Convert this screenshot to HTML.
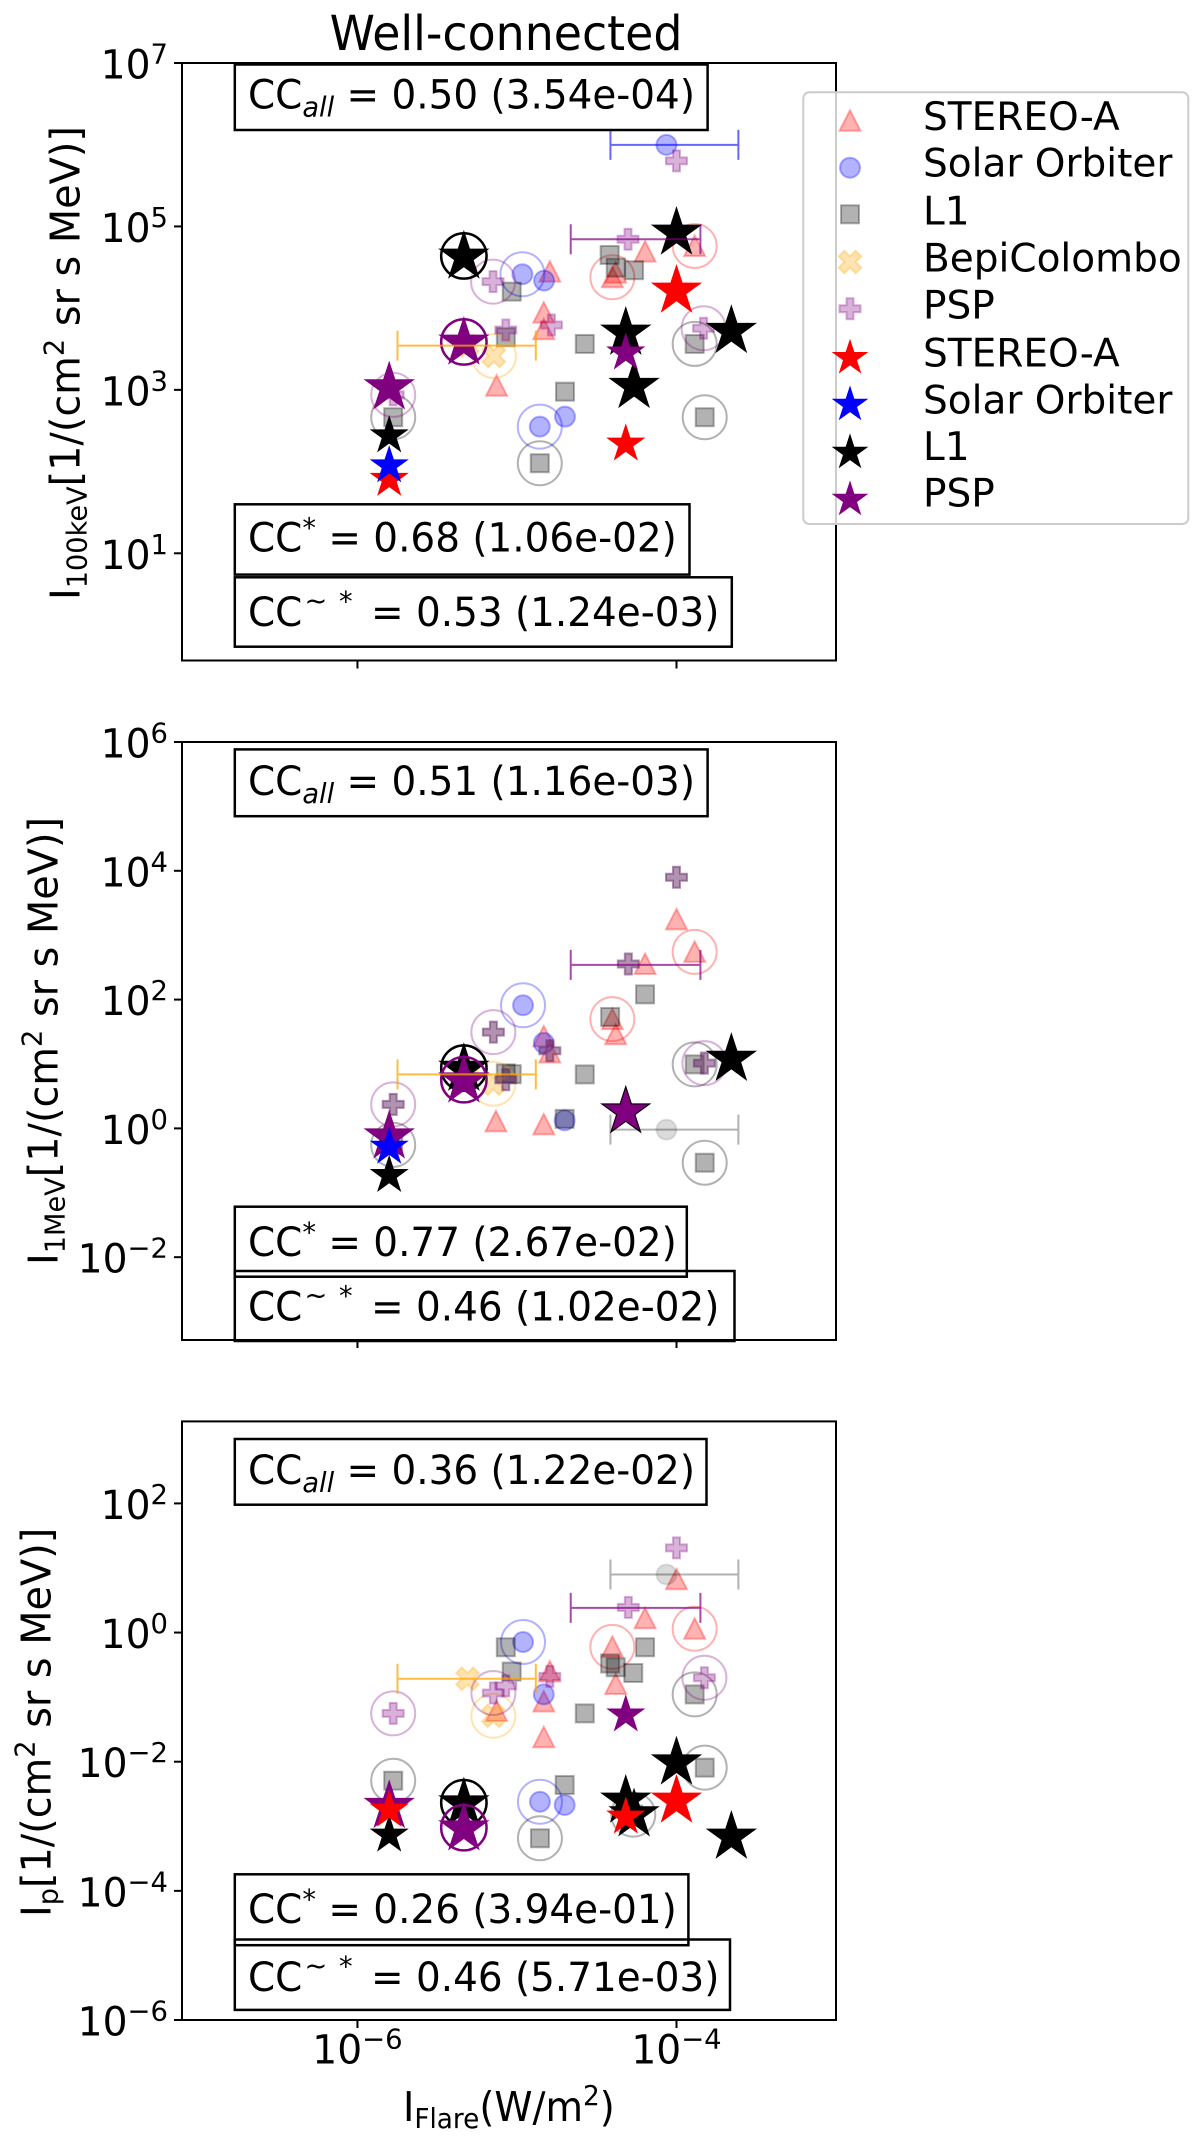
<!DOCTYPE html>
<html lang="en">
<head>
<meta charset="utf-8">
<title>Well-connected</title>
<style>
html,body{margin:0;padding:0;background:#fff;}
svg{display:block;}
text{font-family:"DejaVu Sans","Liberation Sans",sans-serif;fill:#000;}
</style>
</head>
<body>
<svg id="chart" xmlns="http://www.w3.org/2000/svg" width="1200" height="2146" viewBox="0 0 1200 2146">
<rect x="0" y="0" width="1200" height="2146" fill="#fff"/>
<text transform="matrix(.955 0 0 1 329.6 50)" font-size="48">Well-connected</text>

<g id="panel-1">
  <g id="marks-1"></g>
  <rect x="182" y="63" width="654" height="597.5" fill="none" stroke="#000" stroke-width="2"/>
  <g id="ticks-1"></g>
  <text transform="translate(79.5 600) rotate(-90) scale(.97 1)" font-size="41">I<tspan font-size="28" dy="7">100keV</tspan><tspan dy="-7">[1/(cm</tspan><tspan font-size="28" dy="-16">2</tspan><tspan dy="16"> sr s MeV)]</tspan></text>
  <g><rect x="234.8" y="64.5" width="472.8" height="65.5" fill="#fff" stroke="#000" stroke-width="2.5"/><text transform="matrix(.973 0 0 1 248 108.3)" font-size="40">CC<tspan font-size="28" font-style="italic" dy="8">all</tspan><tspan dy="-8"> = 0.50 (3.54e-04)</tspan></text></g>
  <g><rect x="234.8" y="504.3" width="454.7" height="70.3" fill="#fff" stroke="#000" stroke-width="2.5"/><text transform="matrix(.973 0 0 1 248 551.5)" font-size="40">CC<tspan font-size="28" dy="-14">*</tspan><tspan dy="14"> = 0.68 (1.06e-02)</tspan></text></g>
  <g><rect x="234.8" y="577.3" width="497" height="69.4" fill="#fff" stroke="#000" stroke-width="2.5"/><text transform="matrix(.973 0 0 1 248 626)" font-size="40">CC<tspan font-size="28" dx="2.2" dy="-16">~</tspan><tspan font-size="28" dx="12" dy="1">*</tspan><tspan dx="6.2" dy="15"> = 0.53 (1.24e-03)</tspan></text></g>
</g>

<g id="panel-2">
  <g id="marks-2"></g>
  <rect x="182" y="742" width="654" height="598" fill="none" stroke="#000" stroke-width="2"/>
  <g id="ticks-2"></g>
  <text transform="translate(57.5 1265) rotate(-90) scale(.97 1)" font-size="41">I<tspan font-size="28" dy="7">1MeV</tspan><tspan dy="-7">[1/(cm</tspan><tspan font-size="28" dy="-16">2</tspan><tspan dy="16"> sr s MeV)]</tspan></text>
  <g><rect x="234.8" y="749.4" width="472.8" height="66.8" fill="#fff" stroke="#000" stroke-width="2.5"/><text transform="matrix(.973 0 0 1 248 795)" font-size="40">CC<tspan font-size="28" font-style="italic" dy="8">all</tspan><tspan dy="-8"> = 0.51 (1.16e-03)</tspan></text></g>
  <g><rect x="234.8" y="1206.7" width="452" height="70" fill="#fff" stroke="#000" stroke-width="2.5"/><text transform="matrix(.973 0 0 1 248 1256)" font-size="40">CC<tspan font-size="28" dy="-14">*</tspan><tspan dy="14"> = 0.77 (2.67e-02)</tspan></text></g>
  <g><rect x="234.8" y="1271" width="499.7" height="70" fill="none" stroke="#000" stroke-width="2.5"/><text transform="matrix(.973 0 0 1 248 1320.5)" font-size="40">CC<tspan font-size="28" dx="2.2" dy="-16">~</tspan><tspan font-size="28" dx="12" dy="1">*</tspan><tspan dx="6.2" dy="15"> = 0.46 (1.02e-02)</tspan></text></g>
</g>

<g id="panel-3">
  <g id="marks-3"></g>
  <rect x="182" y="1421.4" width="654" height="598.6" fill="none" stroke="#000" stroke-width="2"/>
  <g id="ticks-3"></g>
  <text transform="translate(50.7 1917) rotate(-90) scale(.97 1)" font-size="41">I<tspan font-size="28" dy="7">p</tspan><tspan dy="-7">[1/(cm</tspan><tspan font-size="28" dy="-16">2</tspan><tspan dy="16"> sr s MeV)]</tspan></text>
  <text transform="matrix(.94 0 0 1 403 2121)" font-size="41">I<tspan font-size="28" dy="7">Flare</tspan><tspan dy="-7">(W/m</tspan><tspan font-size="28" dy="-16">2</tspan><tspan dy="16">)</tspan></text>
  <g><rect x="234.8" y="1439" width="471.7" height="65.7" fill="#fff" stroke="#000" stroke-width="2.5"/><text transform="matrix(.973 0 0 1 248 1484)" font-size="40">CC<tspan font-size="28" font-style="italic" dy="8">all</tspan><tspan dy="-8"> = 0.36 (1.22e-02)</tspan></text></g>
  <g><rect x="234.8" y="1874.3" width="453.6" height="70.9" fill="#fff" stroke="#000" stroke-width="2.5"/><text transform="matrix(.973 0 0 1 248 1923)" font-size="40">CC<tspan font-size="28" dy="-14">*</tspan><tspan dy="14"> = 0.26 (3.94e-01)</tspan></text></g>
  <g><rect x="234.8" y="1939.5" width="495.2" height="70.4" fill="none" stroke="#000" stroke-width="2.5"/><text transform="matrix(.973 0 0 1 248 1991)" font-size="40">CC<tspan font-size="28" dx="2.2" dy="-16">~</tspan><tspan font-size="28" dx="12" dy="1">*</tspan><tspan dx="6.2" dy="15"> = 0.46 (5.71e-03)</tspan></text></g>
</g>

<g id="legend">
  <rect x="803.3" y="92.3" width="385" height="431.7" rx="6" ry="6" fill="#fff" fill-opacity=".8" stroke="#ccc" stroke-width="2"/>
  <g id="legend-markers"></g>
  <text x="923" y="130" font-size="39">STEREO-A</text>
  <text x="923" y="176.7" font-size="39">Solar Orbiter</text>
  <text x="923" y="224.3" font-size="39">L1</text>
  <text x="923" y="271.7" font-size="39">BepiColombo</text>
  <text x="923" y="318.3" font-size="39">PSP</text>
  <text x="923" y="366.7" font-size="39">STEREO-A</text>
  <text x="923" y="413.3" font-size="39">Solar Orbiter</text>
  <text x="923" y="460" font-size="39">L1</text>
  <text x="923" y="506.7" font-size="39">PSP</text>
</g>
</svg>

<script>
// All values are log10 of the plotted quantity.
// Tick exponents
const xTickExponents = [-6, -4];
const yTickExponents100keV = [1, 3, 5, 7];
const yTickExponents1MeV = [-2, 0, 2, 4, 6];
const yTickExponentsPeak = [-6, -4, -2, 0, 2];

// ---- Panel 1: I_100keV ----
const p1StereoX = [-4.794, -4.832, -4.832, -5.128, -4.402, -4.381, -4.197, -3.886];
const p1StereoY = [4.447, 3.945, 3.742, 3.051, 4.378, 4.435, 4.692, 4.761];
const p1StereoRing = [0, 0, 0, 0, 1, 0, 0, 1];
const p1SolarX = [-4.063, -4.966, -4.830, -4.857, -4.699];
const p1SolarY = [5.998, 4.415, 4.337, 2.550, 2.672];
const p1SolarRing = [0, 1, 0, 1, 0];
const p1L1X = [-4.419, -4.381, -4.266, -5.033, -5.070, -4.575, -3.886, -4.699, -5.776, -3.823, -4.857];
const p1L1Y = [4.651, 4.496, 4.464, 4.202, 3.644, 3.562, 3.562, 2.978, 2.665, 2.665, 2.102];
const p1L1Ring = [0, 0, 0, 0, 0, 0, 1, 0, 1, 1, 1];
const p1L1CircleX = [];
const p1L1CircleY = [];
const p1BepiX = [-5.145, -5.310];
const p1BepiY = [3.415, 3.541];
const p1BepiRing = [1, 0];
const p1PspX = [-4.0, -4.304, -5.150, -5.070, -4.784, -3.830, -5.776];
const p1PspY = [5.802, 4.843, 4.324, 3.733, 3.794, 3.754, 2.938];
const p1PspRing = [0, 0, 1, 0, 0, 1, 1];
const p1BlackStarX = [-4.0, -5.333, -4.318, -3.656, -4.266, -5.801];
const p1BlackStarY = [4.92, 4.627, 3.696, 3.717, 3.044, 2.439];
const p1BlackStarSize = [1, 1, 1, 1, 1, 0];
const p1BlackStarRing = [0, 1, 0, 0, 0, 0];
const p1PurpleStarX = [-5.333, -4.318, -5.801];
const p1PurpleStarY = [3.574, 3.452, 3.027];
const p1PurpleStarSize = [1, 0, 1];
const p1PurpleStarRing = [1, 0, 0];
const p1RedStarX = [-4.0, -4.318, -5.801];
const p1RedStarY = [4.21, 2.338, 1.906];
const p1RedStarSize = [1, 0, 0];
const p1BlueStarX = [-5.801];
const p1BlueStarY = [2.072];
const p1BlueStarSize = [0];
const p1ErrKinds = ['solar', 'bepi', 'psp'];
const p1ErrY = [5.998, 3.541, 4.843];
const p1ErrLow = [-4.414, -5.749, -4.663];
const p1ErrHigh = [-3.612, -4.882, -3.850];

// ---- Panel 2: I_1MeV ----
const p2StereoX = [-4.0, -3.886, -4.197, -4.402, -4.381, -4.832, -4.794, -5.132, -4.832];
const p2StereoY = [3.246, 2.741, 2.552, 1.697, 1.461, 1.428, 1.178, 0.109, 0.062];
const p2StereoRing = [0, 1, 0, 1, 0, 0, 0, 0, 0];
const p2SolarX = [-4.962, -4.832, -4.701];
const p2SolarY = [1.912, 1.327, 0.124];
const p2SolarRing = [1, 0, 0];
const p2L1X = [-4.197, -4.416, -3.886, -5.070, -5.033, -4.575, -4.701, -3.823, -5.776];
const p2L1Y = [2.081, 1.731, 0.994, 0.855, 0.842, 0.838, 0.148, -0.533, -0.256];
const p2L1Ring = [0, 0, 1, 0, 0, 0, 0, 1, 1];
const p2L1CircleX = [-4.063];
const p2L1CircleY = [-0.02];
const p2BepiX = [-5.148, -5.310];
const p2BepiY = [0.694, 0.838];
const p2BepiRing = [1, 0];
const p2PspX = [-4.0, -4.302, -5.148, -4.794, -5.070, -3.825, -5.776];
const p2PspY = [3.899, 2.552, 1.495, 1.205, 0.756, 1.014, 0.373];
const p2PspRing = [0, 0, 1, 0, 0, 1, 1];
const p2BlackStarX = [-5.333, -3.656, -5.801, -4.318];
const p2BlackStarY = [0.921, 1.076, -0.73, 0.259];
const p2BlackStarSize = [1, 1, 0, 1];
const p2BlackStarRing = [1, 0, 0, 0];
const p2PurpleStarX = [-5.333, -4.318, -5.801];
const p2PurpleStarY = [0.74, 0.259, -0.13];
const p2PurpleStarSize = [1, 2, 1];
const p2PurpleStarRing = [1, 0, 0];
const p2RedStarX = [];
const p2RedStarY = [];
const p2RedStarSize = [];
const p2BlueStarX = [-5.801];
const p2BlueStarY = [-0.29];
const p2BlueStarSize = [0];
const p2ErrKinds = ['gray', 'bepi', 'psp'];
const p2ErrY = [-0.02, 0.838, 2.539];
const p2ErrLow = [-4.414, -5.749, -4.663];
const p2ErrHigh = [-3.612, -4.882, -3.850];

// ---- Panel 3: I_p ----
const p3StereoX = [-4.0, -4.197, -3.886, -4.402, -4.794, -4.381, -4.832, -5.128, -4.832];
const p3StereoY = [0.825, 0.221, 0.059, -0.221, -0.604, -0.796, -1.068, -1.215, -1.621];
const p3StereoRing = [0, 0, 1, 1, 0, 0, 0, 0, 0];
const p3SolarX = [-4.962, -4.832, -4.856, -4.701];
const p3SolarY = [-0.147, -0.958, -2.62, -2.67];
const p3SolarRing = [1, 0, 1, 0];
const p3L1X = [-5.070, -5.033, -4.416, -4.381, -4.271, -4.197, -4.575, -3.886, -3.823, -5.776, -4.701, -4.856, -4.271];
const p3L1Y = [-0.228, -0.604, -0.479, -0.538, -0.626, -0.228, -1.252, -0.958, -2.092, -2.294, -2.36, -3.186, -2.82];
const p3L1Ring = [0, 0, 0, 0, 0, 0, 0, 1, 1, 1, 0, 1, 1];
const p3L1CircleX = [-4.063];
const p3L1CircleY = [0.899];
const p3BepiX = [-5.310, -5.148];
const p3BepiY = [-0.715, -1.289];
const p3BepiRing = [0, 1];
const p3PspX = [-4.0, -4.302, -4.794, -5.070, -5.148, -3.825, -5.776];
const p3PspY = [1.311, 0.390, -0.678, -0.825, -0.936, -0.700, -1.252];
const p3PspRing = [0, 0, 0, 0, 1, 1, 1];
const p3BlackStarX = [-4.0, -4.318, -4.266, -5.333, -3.656, -5.801];
const p3BlackStarY = [-2.016, -2.608, -2.82, -2.65, -3.166, -3.135];
const p3BlackStarSize = [1, 1, 1, 1, 1, 0];
const p3BlackStarRing = [0, 0, 0, 1, 0, 0];
const p3PurpleStarX = [-4.318, -5.333, -5.801];
const p3PurpleStarY = [-1.274, -3.037, -2.69];
const p3PurpleStarSize = [0, 1, 1];
const p3PurpleStarRing = [0, 1, 0];
const p3RedStarX = [-4.0, -4.318, -5.801];
const p3RedStarY = [-2.608, -2.856, -2.748];
const p3RedStarSize = [1, 0, 0];
const p3BlueStarX = [];
const p3BlueStarY = [];
const p3BlueStarSize = [];
const p3ErrKinds = ['gray', 'bepi', 'psp'];
const p3ErrY = [0.899, -0.715, 0.383];
const p3ErrLow = [-4.414, -5.749, -4.663];
const p3ErrHigh = [-3.612, -4.882, -3.850];

// ---- Axis limits ----
const xLimits = [-7.1, -3];
const p1YLimits = [-0.312, 7];
const p2YLimits = [-3.286, 6];
const p3YLimits = [-6, 3.27];

const NS = 'http://www.w3.org/2000/svg';
const PLOT_LEFT = 182;
const PLOT_RIGHT = 836;
const STAR_RADII = [20.6, 27, 23.5];

function xAxis(v) {
  return PLOT_LEFT + (v - xLimits[0]) / (xLimits[1] - xLimits[0]) * (PLOT_RIGHT - PLOT_LEFT);
}
function makeYAxis(limits, top, bottom) {
  return function (v) {
    return bottom - (v - limits[0]) / (limits[1] - limits[0]) * (bottom - top);
  };
}
function svgEl(tag, attrs, parent) {
  const el = document.createElementNS(NS, tag);
  for (const k in attrs) el.setAttribute(k, attrs[k]);
  parent.appendChild(el);
  return el;
}
function pts(list) {
  return list.map(function (p) { return p[0].toFixed(2) + ',' + p[1].toFixed(2); }).join(' ');
}
function starPoints(cx, cy, R) {
  const out = [];
  for (let i = 0; i < 10; i++) {
    const r = i % 2 === 0 ? R : R * 0.382;
    const a = -Math.PI / 2 + i * Math.PI / 5;
    out.push([cx + r * Math.cos(a), cy + r * Math.sin(a)]);
  }
  return pts(out);
}
function plusPoints(cx, cy, h, a, angle) {
  const base = [[-a, -h], [a, -h], [a, -a], [h, -a], [h, a], [a, a], [a, h], [-a, h], [-a, a], [-h, a], [-h, -a], [-a, -a]];
  const c = Math.cos(angle), s = Math.sin(angle);
  return pts(base.map(function (p) { return [cx + p[0] * c - p[1] * s, cy + p[0] * s + p[1] * c]; }));
}
const COLORS = {
  stereo: 'rgb(255,0,0)', solar: 'rgb(0,0,255)', l1: 'rgb(0,0,0)', bepi: 'rgb(255,165,0)', psp: 'rgb(128,0,128)', pspDark: 'rgb(100,40,100)', gray: 'rgb(0,0,0)'
};
function drawFaded(kind, cx, cy, parent) {
  const col = COLORS[kind];
  const alpha = kind === 'pspDark' ? 0.5 : 0.3;
  const style = { fill: col, 'fill-opacity': alpha, stroke: col, 'stroke-opacity': alpha, 'stroke-width': 2 };
  let el;
  if (kind === 'stereo') {
    el = svgEl('polygon', Object.assign({ points: pts([[cx, cy - 10.5], [cx + 10.5, cy + 10], [cx - 10.5, cy + 10]]) }, style), parent);
  } else if (kind === 'solar') {
    el = svgEl('circle', Object.assign({ cx: cx, cy: cy, r: 10 }, style), parent);
  } else if (kind === 'l1') {
    el = svgEl('rect', Object.assign({ x: cx - 9, y: cy - 9, width: 18, height: 18 }, style), parent);
  } else if (kind === 'bepi') {
    el = svgEl('polygon', Object.assign({ points: plusPoints(cx, cy, 12, 4, Math.PI / 4) }, style), parent);
  } else {
    el = svgEl('polygon', Object.assign({ points: plusPoints(cx, cy, 10.5, 3.5, 0) }, style), parent);
  }
  
  
  return el;
}
function drawFadedSeries(kind, xs, ys, rings, yAxis, parent) {
  xs.forEach(function (xv, i) {
    const cx = xAxis(xv), cy = yAxis(ys[i]);
    drawFaded(kind, cx, cy, parent);
    if (rings[i]) {
      const ringColor = kind === 'pspDark' ? COLORS.psp : COLORS[kind];
      const ring = svgEl('circle', { cx: cx, cy: cy, r: 22, fill: 'none', stroke: ringColor, 'stroke-opacity': 0.3, 'stroke-width': 2 }, parent);
      
      
    }
  });
}
function drawL1Circles(xs, ys, yAxis, parent) {
  xs.forEach(function (xv, i) {
    const dot = svgEl('circle', { cx: xAxis(xv), cy: yAxis(ys[i]), r: 10, fill: '#000', 'fill-opacity': 0.14, stroke: '#000', 'stroke-opacity': 0.1, 'stroke-width': 2 }, parent);
    
    
  });
}
function drawStars(color, label, xs, ys, sizes, rings, yAxis, parent) {
  xs.forEach(function (xv, i) {
    const cx = xAxis(xv), cy = yAxis(ys[i]);
    const s = svgEl('polygon', { points: starPoints(cx, cy, STAR_RADII[sizes[i]]), fill: color }, parent);
    
    
    if (rings && rings[i]) {
      const ring = svgEl('circle', { cx: cx, cy: cy - 1, r: 22.7, fill: 'none', stroke: color, 'stroke-width': 2.5 }, parent);
      
      
    }
  });
}
const ERR_STYLE = { solar: ['rgb(0,0,255)', 0.6], bepi: ['rgb(255,165,0)', 0.75], psp: ['rgb(128,0,128)', 0.7], gray: ['rgb(0,0,0)', 0.3] };
function drawErrors(kinds, ys, lows, highs, yAxis, parent) {
  kinds.forEach(function (k, i) {
    const y = yAxis(ys[i]), x0 = xAxis(lows[i]), x1 = xAxis(highs[i]);
    const st = ERR_STYLE[k];
    const d = 'M' + x0 + ' ' + y + 'H' + x1 + 'M' + x0 + ' ' + (y - 15) + 'V' + (y + 15) + 'M' + x1 + ' ' + (y - 15) + 'V' + (y + 15);
    const p = svgEl('path', { d: d, fill: 'none', stroke: st[0], 'stroke-opacity': st[1], 'stroke-width': 2 }, parent);
    
    
  });
}
function drawPowerLabel(exp, x, y, anchor, parent) {
  const t = svgEl('text', { transform: 'matrix(.98 0 0 1 ' + x + ' ' + y + ')', 'font-size': 40, 'text-anchor': anchor }, parent);
  
  
  t.appendChild(document.createTextNode('10'));
  const sup = svgEl('tspan', { 'font-size': 28, dy: -15 }, t);
  sup.textContent = (exp < 0 ? '\u2212' : '') + Math.abs(exp);
}
function drawTicks(yTicks, yAxis, bottom, showXLabels, parent) {
  yTicks.forEach(function (e) {
    const y = yAxis(e);
    const tick = svgEl('line', { x1: PLOT_LEFT - 8, x2: PLOT_LEFT, y1: y, y2: y, stroke: '#000', 'stroke-width': 2 }, parent);
    
    
    drawPowerLabel(e, 168, y + 15.5, 'end', parent);
  });
  xTickExponents.forEach(function (e) {
    const x = xAxis(e);
    const tick = svgEl('line', { x1: x, x2: x, y1: bottom, y2: bottom + 8, stroke: '#000', 'stroke-width': 2 }, parent);
    
    
    if (showXLabels) drawPowerLabel(e, x, bottom + 43.6, 'middle', parent);
  });
}

// Panel 1
(function () {
  const yAxis = makeYAxis(p1YLimits, 63, 660.5);
  const g = document.getElementById('marks-1');
  drawFadedSeries('stereo', p1StereoX, p1StereoY, p1StereoRing, yAxis, g);
  drawFadedSeries('solar', p1SolarX, p1SolarY, p1SolarRing, yAxis, g);
  drawFadedSeries('l1', p1L1X, p1L1Y, p1L1Ring, yAxis, g);
  drawL1Circles(p1L1CircleX, p1L1CircleY, yAxis, g);
  drawFadedSeries('bepi', p1BepiX, p1BepiY, p1BepiRing, yAxis, g);
  drawFadedSeries('psp', p1PspX, p1PspY, p1PspRing, yAxis, g);
  drawStars('#000', 'l1', p1BlackStarX, p1BlackStarY, p1BlackStarSize, p1BlackStarRing, yAxis, g);
  drawStars('#800080', 'psp', p1PurpleStarX, p1PurpleStarY, p1PurpleStarSize, p1PurpleStarRing, yAxis, g);
  drawStars('#f00', 'stereo-a', p1RedStarX, p1RedStarY, p1RedStarSize, null, yAxis, g);
  drawStars('#00f', 'solar-orbiter', p1BlueStarX, p1BlueStarY, p1BlueStarSize, null, yAxis, g);
  drawErrors(p1ErrKinds, p1ErrY, p1ErrLow, p1ErrHigh, yAxis, g);
  drawTicks(yTickExponents100keV, yAxis, 660.5, false, document.getElementById('ticks-1'));
})();

// Panel 2
(function () {
  const yAxis = makeYAxis(p2YLimits, 742, 1340);
  const g = document.getElementById('marks-2');
  drawFadedSeries('stereo', p2StereoX, p2StereoY, p2StereoRing, yAxis, g);
  drawFadedSeries('solar', p2SolarX, p2SolarY, p2SolarRing, yAxis, g);
  drawFadedSeries('l1', p2L1X, p2L1Y, p2L1Ring, yAxis, g);
  drawL1Circles(p2L1CircleX, p2L1CircleY, yAxis, g);
  drawFadedSeries('bepi', p2BepiX, p2BepiY, p2BepiRing, yAxis, g);
  drawFadedSeries('pspDark', p2PspX, p2PspY, p2PspRing, yAxis, g);
  drawStars('#000', 'l1', p2BlackStarX, p2BlackStarY, p2BlackStarSize, p2BlackStarRing, yAxis, g);
  drawStars('#800080', 'psp', p2PurpleStarX, p2PurpleStarY, p2PurpleStarSize, p2PurpleStarRing, yAxis, g);
  drawStars('#f00', 'stereo-a', p2RedStarX, p2RedStarY, p2RedStarSize, null, yAxis, g);
  drawStars('#00f', 'solar-orbiter', p2BlueStarX, p2BlueStarY, p2BlueStarSize, null, yAxis, g);
  drawErrors(p2ErrKinds, p2ErrY, p2ErrLow, p2ErrHigh, yAxis, g);
  drawTicks(yTickExponents1MeV, yAxis, 1340, false, document.getElementById('ticks-2'));
})();

// Panel 3
(function () {
  const yAxis = makeYAxis(p3YLimits, 1421.4, 2020);
  const g = document.getElementById('marks-3');
  drawFadedSeries('stereo', p3StereoX, p3StereoY, p3StereoRing, yAxis, g);
  drawFadedSeries('solar', p3SolarX, p3SolarY, p3SolarRing, yAxis, g);
  drawFadedSeries('l1', p3L1X, p3L1Y, p3L1Ring, yAxis, g);
  drawL1Circles(p3L1CircleX, p3L1CircleY, yAxis, g);
  drawFadedSeries('bepi', p3BepiX, p3BepiY, p3BepiRing, yAxis, g);
  drawFadedSeries('psp', p3PspX, p3PspY, p3PspRing, yAxis, g);
  drawStars('#000', 'l1', p3BlackStarX, p3BlackStarY, p3BlackStarSize, p3BlackStarRing, yAxis, g);
  drawStars('#800080', 'psp', p3PurpleStarX, p3PurpleStarY, p3PurpleStarSize, p3PurpleStarRing, yAxis, g);
  drawStars('#f00', 'stereo-a', p3RedStarX, p3RedStarY, p3RedStarSize, null, yAxis, g);
  drawStars('#00f', 'solar-orbiter', p3BlueStarX, p3BlueStarY, p3BlueStarSize, null, yAxis, g);
  drawErrors(p3ErrKinds, p3ErrY, p3ErrLow, p3ErrHigh, yAxis, g);
  drawTicks(yTickExponentsPeak, yAxis, 2020, true, document.getElementById('ticks-3'));
})();

// Legend markers
(function () {
  const g = document.getElementById('legend-markers');
  const lx = 850;
  drawFaded('stereo', lx, 120.7, g);
  drawFaded('solar', lx, 167.7, g);
  drawFaded('l1', lx, 214.3, g);
  drawFaded('bepi', lx, 262, g);
  drawFaded('psp', lx, 308.7, g);
  const starCols = ['#f00', '#00f', '#000', '#800080'];
  const starRows = [358, 404.7, 452.7, 499.7];
  starCols.forEach(function (c, i) {
    const s = svgEl('polygon', { points: starPoints(lx, starRows[i], 19.3), fill: c }, g);
    
    
  });
})();
</script>
</body>
</html>
